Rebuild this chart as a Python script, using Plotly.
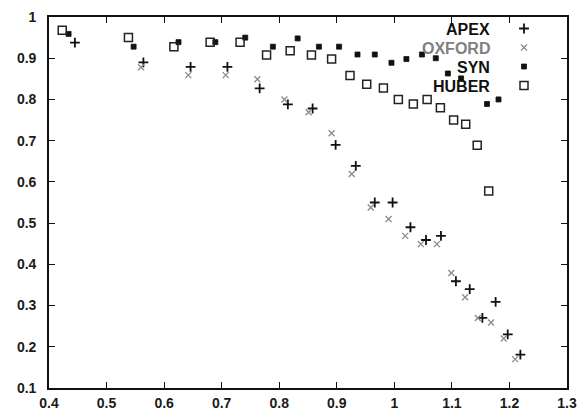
import plotly.graph_objects as go

apex_x = [0.445, 0.564, 0.646, 0.710, 0.766, 0.815, 0.858, 0.898, 0.933, 0.966, 0.997,
          1.028, 1.055, 1.081, 1.107, 1.131, 1.153, 1.176, 1.197, 1.219]
apex_y = [0.938, 0.890, 0.879, 0.879, 0.827, 0.788, 0.778, 0.690, 0.639, 0.550, 0.550,
          0.490, 0.459, 0.469, 0.359, 0.340, 0.270, 0.309, 0.230, 0.181]

oxford_x = [0.560, 0.642, 0.707, 0.762, 0.809, 0.851, 0.891, 0.926, 0.959, 0.990,
            1.019, 1.046, 1.074, 1.099, 1.123, 1.145, 1.168, 1.190, 1.210]
oxford_y = [0.878, 0.859, 0.859, 0.849, 0.800, 0.769, 0.718, 0.619, 0.538, 0.510,
            0.469, 0.449, 0.449, 0.379, 0.320, 0.270, 0.259, 0.220, 0.170]

syn_x = [0.434, 0.547, 0.625, 0.689, 0.741, 0.789, 0.832, 0.869, 0.904, 0.936,
         0.966, 0.995, 1.021, 1.048, 1.072, 1.093, 1.116, 1.161, 1.181]
syn_y = [0.959, 0.928, 0.939, 0.939, 0.950, 0.928, 0.948, 0.928, 0.928, 0.909,
         0.909, 0.889, 0.898, 0.909, 0.900, 0.863, 0.851, 0.789, 0.800]

huber_x = [0.423, 0.538, 0.617, 0.680, 0.732, 0.778, 0.819, 0.856, 0.891, 0.923,
           0.952, 0.981, 1.007, 1.033, 1.057, 1.080, 1.103, 1.124, 1.144, 1.164]
huber_y = [0.968, 0.950, 0.928, 0.939, 0.939, 0.908, 0.918, 0.908, 0.898, 0.858,
           0.837, 0.828, 0.800, 0.789, 0.800, 0.780, 0.750, 0.740, 0.689, 0.578]

series_names = ["APEX", "OXFORD", "SYN", "HUBER"]
name_colors = ["#111111", "#808080", "#111111", "#111111"]

x_ticks = [0.4, 0.5, 0.6, 0.7, 0.8, 0.9, 1.0, 1.1, 1.2, 1.3]
x_tick_labels = ["0.4", "0.5", "0.6", "0.7", "0.8", "0.9", "1", "1.1", "1.2", "1.3"]
y_ticks = [0.1, 0.2, 0.3, 0.4, 0.5, 0.6, 0.7, 0.8, 0.9, 1.0]
y_tick_labels = ["0.1", "0.2", "0.3", "0.4", "0.5", "0.6", "0.7", "0.8", "0.9", "1"]

fig = go.Figure()
fig.add_trace(go.Scatter(x=apex_x, y=apex_y, mode="markers", name=" ",
                         marker=dict(symbol="cross-thin", size=7, color="#111",
                                     line=dict(width=1.8, color="#111"))))
fig.add_trace(go.Scatter(x=oxford_x, y=oxford_y, mode="markers", name=" ",
                         marker=dict(symbol="x-thin", size=6, color="#8a8a8a",
                                     line=dict(width=1.3, color="#8a8a8a"))))
fig.add_trace(go.Scatter(x=syn_x, y=syn_y, mode="markers", name=" ",
                         marker=dict(symbol="square", size=5, color="#111",
                                     line=dict(width=0.8, color="#111"))))
fig.add_trace(go.Scatter(x=huber_x, y=huber_y, mode="markers", name=" ",
                         marker=dict(symbol="square-open", size=8, color="#222",
                                     line=dict(width=1.5, color="#222"))))

# legend text to the left of legend symbols
L, R, T, B = 49, 13, 17, 24
W, H = 580, 412
pw, ph = W - L - R, H - T - B
row_y = [29, 48, 67, 86]
for name, col, py in zip(series_names, name_colors, row_y):
    fig.add_annotation(x=(492 - L) / pw, y=(H - B - py) / ph, xref="paper", yref="paper",
                       text="<b>" + name + "</b>", showarrow=False, xanchor="right", yanchor="middle",
                       font=dict(family="Liberation Sans", size=16, color=col))

axis_common = dict(showline=True, linewidth=1.6, linecolor="#111", mirror="ticks",
                   ticks="inside", ticklen=6, tickwidth=1.2, tickcolor="#111",
                   showgrid=False, zeroline=False, automargin=False,
                   tickfont=dict(family="Liberation Sans", size=14, color="#1a1a1a", weight="bold"))

fig.update_xaxes(range=[0.4, 1.3], tickvals=x_ticks, ticktext=x_tick_labels,
                 ticklabelstandoff=1, **axis_common)
fig.update_yaxes(range=[0.1, 1.0], tickvals=y_ticks, ticktext=y_tick_labels,
                 ticklabelstandoff=8, **axis_common)

fig.update_layout(
    width=W, height=H,
    margin=dict(l=L, r=R, t=T, b=B),
    paper_bgcolor="white", plot_bgcolor="white",
    showlegend=True,
    legend=dict(x=(504 - L) / pw, y=(H - B - 14) / ph, xanchor="left", yanchor="top",
                bgcolor="rgba(0,0,0,0)", borderwidth=0,
                font=dict(family="Liberation Sans", size=10), itemwidth=30),
)

fig.write_html("out.html")
